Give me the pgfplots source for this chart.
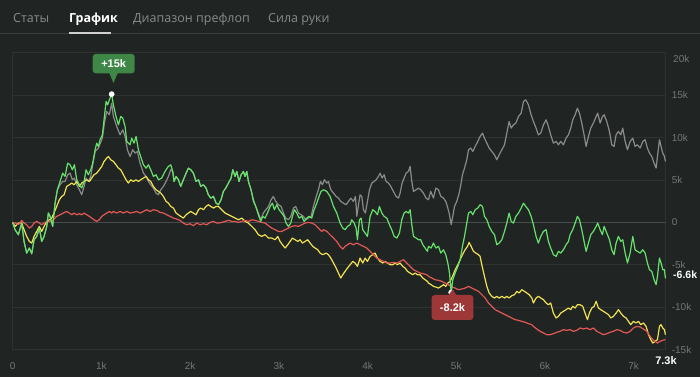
\documentclass[border=0pt]{standalone}
\usepackage{pgfplots}
\pgfplotsset{compat=1.18}
\usepackage{fontspec}
\setmainfont{Liberation Sans}
\newfontfamily\tabfont{Open Sans}
\definecolor{bg}{RGB}{32,36,35}
\definecolor{gridc}{RGB}{46,50,49}
\definecolor{zeroc}{RGB}{72,76,75}
\definecolor{sepc}{RGB}{58,62,61}
\definecolor{labc}{RGB}{115,119,118}
\definecolor{tabc}{RGB}{135,139,138}
\definecolor{sgray}{RGB}{138,138,138}
\definecolor{sgreen}{RGB}{102,226,106}
\definecolor{syellow}{RGB}{240,226,82}
\definecolor{sred}{RGB}{226,88,84}
\definecolor{tipgreen}{RGB}{62,135,70}
\definecolor{tipred}{RGB}{158,56,56}
\begin{document}
\begin{tikzpicture}[x=1pt,y=1pt]
\fill[bg] (0,0) rectangle (700,377);
% tabs
\fill[sepc] (0,342.5) rectangle (700,343.6);
\fill[white!82!black] (69,343) rectangle (111,345);
\node[anchor=base west, inner sep=0pt, text=tabc] at (13,354) {\tabfont\fontsize{12.5}{15}\selectfont Статы};
\node[anchor=base west, inner sep=0pt, text=white] at (69,354) {\tabfont\bfseries\fontsize{12.5}{15}\selectfont График};
\node[anchor=base west, inner sep=0pt, text=tabc] at (133,354) {\tabfont\fontsize{12.5}{15}\selectfont Диапазон префлоп};
\node[anchor=base west, inner sep=0pt, text=tabc] at (268,354) {\tabfont\fontsize{12.5}{15}\selectfont Сила руки};
\begin{axis}[
  at={(14.3,32)}, anchor=south west,
  scale only axis, width=652.9pt, height=297.3pt,
  xmin=0, xmax=7360, ymin=-15, ymax=20,
  axis line style={draw=gridc, line width=0.8pt},
  ymajorgrids, major grid style={draw=gridc, line width=0.8pt},
  xtick={0,1000,2000,3000,4000,5000,6000,7000},
  xticklabels={0,1k,2k,3k,4k,5k,6k,7k},
  ytick={-15,-10,-5,0,5,10,15},
  yticklabels={-15k,-10k,-5k,0,5k,10k,15k},
  yticklabel pos=right,
  major tick length=0pt,
  tick style={draw=none},
  ticklabel style={font=\fontsize{10}{12}\selectfont, text=labc, inner sep=0pt},
  yticklabel style={anchor=west, xshift=6pt},
  xticklabel style={anchor=center, yshift=-16pt},
  clip=false,
]
\draw[zeroc, line width=1.6pt] (axis cs:0,0) -- (axis cs:7360,0);
% gray
\addplot[sgray, line width=1.2pt, line join=round, no marks] coordinates {
(0,0) (27,-0.86) (64,-1.45) (102,-0.08) (128,-2.24) (158,-3.61) (188,-3.02) (215,-3.69) (241,-2.04) (271,-1.65) (301,-0.67) (327,-2.24) (354,-1.65) (384,-0.47) (402,1.10) (421,0.71) (451,-0.47) (478,2.27) (504,3.84) (534,4.43) (564,4.82) (590,4.82) (620,5.61) (647,5.80) (673,5.02) (696,5.22) (722,4.43) (752,3.84) (778,3.25) (805,4.24) (827,5.22) (853,4.82) (880,5.41) (902,6.78) (929,8.35) (966,8.75) (1011,9.92) (1034,11.69) (1060,13.06) (1090,12.67) (1116,14.04) (1135,12.47) (1173,11.29) (1210,10.31) (1241,10.90) (1267,10.12) (1293,8.55) (1323,7.76) (1353,8.55) (1380,8.16) (1406,8.35) (1436,6.98) (1474,5.80) (1504,5.41) (1530,4.82) (1556,4.43) (1586,4.04) (1616,3.45) (1643,3.25) (1669,3.84) (1699,4.24) (1729,4.82) (1755,5.41) (1782,6.20) (1804,6.00) (1819,4.82) (1842,5.41) (1868,5.02) (1894,4.24) (1924,5.02) (1955,5.80) (1981,6.39) (2007,6.20) (2037,5.80) (2067,4.82) (2094,5.02) (2120,4.24) (2150,4.43) (2180,4.04) (2206,3.25) (2233,2.86) (2263,3.06) (2293,2.27) (2319,2.08) (2349,2.67) (2375,3.65) (2402,4.04) (2432,4.63) (2462,5.22) (2481,6.20) (2507,5.41) (2526,6.00) (2552,4.82) (2575,5.61) (2601,6.00) (2620,5.41) (2639,6.00) (2657,4.82) (2687,3.84) (2714,2.67) (2740,1.88) (2770,1.10) (2796,0.31) (2826,1.10) (2853,1.49) (2883,1.88) (2913,2.67) (2939,3.06) (2965,2.47) (2995,2.08) (3026,1.88) (3052,1.10) (3078,0.51) (3108,0.31) (3135,0.71) (3165,1.69) (3191,1.88) (3221,1.10) (3251,0.90) (3277,0.71) (3304,0.31) (3334,0.51) (3364,0.71) (3390,1.88) (3416,2.86) (3446,3.84) (3469,4.82) (3492,4.43) (3514,5.02) (3541,4.63) (3559,4.82) (3586,3.84) (3616,3.45) (3646,3.06) (3672,2.86) (3698,2.47) (3728,2.27) (3758,2.08) (3785,2.47) (3811,2.86) (3841,2.47) (3864,3.06) (3879,0.71) (3898,2.08) (3916,3.25) (3935,3.06) (3954,1.49) (3976,1.10) (3999,2.47) (4022,3.84) (4048,4.63) (4074,4.82) (4097,5.02) (4123,5.41) (4142,5.80) (4164,5.22) (4187,5.61) (4209,4.82) (4236,4.63) (4262,4.24) (4292,3.65) (4322,3.06) (4349,2.86) (4367,3.45) (4390,4.63) (4412,5.22) (4435,5.80) (4461,6.00) (4480,6.59) (4499,4.82) (4518,3.65) (4548,3.84) (4574,4.04) (4600,3.84) (4630,3.45) (4660,2.86) (4687,2.67) (4713,3.65) (4743,2.86) (4770,4.04) (4800,3.84) (4826,3.06) (4856,2.86) (4882,2.47) (4905,1.69) (4924,0.90) (4943,-0.27) (4961,0.71) (4980,1.88) (5006,2.47) (5033,3.45) (5055,4.63) (5070,5.61) (5093,6.39) (5119,7.37) (5138,8.55) (5164,8.75) (5187,8.35) (5213,8.94) (5243,9.53) (5269,10.12) (5296,10.51) (5318,9.92) (5345,9.33) (5371,8.75) (5401,8.35) (5431,7.96) (5457,7.37) (5484,7.96) (5514,8.55) (5544,9.14) (5570,10.51) (5596,11.88) (5619,11.10) (5645,11.49) (5672,11.69) (5702,12.47) (5732,12.86) (5758,14.24) (5784,14.43) (5814,13.84) (5844,12.67) (5870,11.88) (5900,11.10) (5926,10.31) (5953,10.51) (5983,11.49) (6013,12.08) (6039,11.29) (6065,10.31) (6095,9.33) (6126,9.53) (6152,9.14) (6178,9.53) (6208,9.14) (6238,9.92) (6265,10.31) (6291,11.10) (6313,12.08) (6340,12.67) (6366,13.45) (6389,12.86) (6415,11.69) (6441,10.31) (6464,8.94) (6490,10.12) (6516,11.10) (6546,11.69) (6577,12.47) (6595,12.86) (6622,11.69) (6648,12.47) (6667,12.67) (6697,11.88) (6727,10.71) (6753,9.14) (6779,8.94) (6802,10.31) (6828,10.71) (6855,10.31) (6877,11.10) (6904,9.53) (6930,8.55) (6960,9.53) (6990,9.92) (7016,8.94) (7042,9.14) (7073,8.75) (7103,9.53) (7129,9.73) (7155,8.75) (7178,8.16) (7204,7.76) (7230,6.98) (7253,6.39) (7268,7.76) (7291,9.73) (7309,8.94) (7328,8.16) (7347,7.76) (7358,7.18)
};
% yellow
\addplot[syellow, line width=1.2pt, line join=round, no marks] coordinates {
(0,0) (27,-0.47) (64,-0.08) (102,-0.08) (128,-0.86) (158,-1.65) (188,-2.24) (215,-2.43) (241,-1.65) (271,-1.06) (301,-0.47) (327,-1.06) (354,-0.47) (384,0.12) (414,0.31) (440,0.51) (466,1.10) (496,1.88) (526,2.67) (553,3.06) (579,3.25) (609,4.24) (639,4.43) (666,4.63) (692,4.43) (722,4.82) (752,4.24) (778,4.63) (805,4.82) (835,5.02) (865,4.82) (891,5.22) (917,5.61) (947,5.80) (977,6.20) (1004,6.59) (1030,7.18) (1060,7.57) (1079,7.76) (1105,7.37) (1135,7.18) (1165,6.78) (1192,6.39) (1218,6.20) (1248,5.61) (1278,5.02) (1304,4.63) (1331,5.02) (1361,4.82) (1391,5.02) (1417,4.82) (1443,5.02) (1474,5.22) (1504,5.41) (1530,5.02) (1556,4.82) (1586,4.24) (1616,3.84) (1643,3.65) (1669,3.45) (1699,3.06) (1729,2.47) (1755,2.27) (1782,1.88) (1812,1.69) (1842,1.10) (1868,0.90) (1894,0.71) (1924,0.51) (1955,0.90) (1981,1.10) (2007,1.29) (2037,1.10) (2067,0.90) (2094,1.49) (2120,1.69) (2150,1.49) (2180,1.88) (2206,2.08) (2233,1.88) (2263,1.69) (2293,1.88) (2319,1.88) (2357,1.49) (2394,1.10) (2432,0.90) (2469,0.71) (2507,0.51) (2545,0.31) (2582,0.51) (2620,0.12) (2657,-0.08) (2695,-0.47) (2732,-0.86) (2770,-1.45) (2808,-1.65) (2845,-1.45) (2883,-1.84) (2920,-1.84) (2958,-2.04) (2988,-1.65) (3014,-2.24) (3041,-2.63) (3071,-3.02) (3101,-2.63) (3127,-2.24) (3153,-1.84) (3183,-2.04) (3214,-2.24) (3240,-2.04) (3266,-2.43) (3296,-2.24) (3326,-2.04) (3353,-2.43) (3383,-2.82) (3409,-3.02) (3439,-3.22) (3465,-3.61) (3495,-3.80) (3533,-3.61) (3559,-3.80) (3586,-4.20) (3616,-4.78) (3646,-5.37) (3672,-5.96) (3698,-6.55) (3721,-6.16) (3747,-5.76) (3774,-5.37) (3804,-4.98) (3834,-4.59) (3860,-4.78) (3886,-5.18) (3916,-4.20) (3946,-4.78) (3973,-4.20) (3999,-4.59) (4029,-4.00) (4059,-3.80) (4085,-3.61) (4112,-4.20) (4142,-4.59) (4172,-4.78) (4198,-4.59) (4225,-4.78) (4255,-4.98) (4285,-4.98) (4311,-4.78) (4337,-4.98) (4367,-4.78) (4397,-5.18) (4424,-5.37) (4450,-5.76) (4480,-5.96) (4510,-6.16) (4536,-5.96) (4563,-6.16) (4593,-6.16) (4623,-6.55) (4649,-6.75) (4675,-6.94) (4687,-7.14) (4717,-7.33) (4743,-7.53) (4770,-7.61) (4800,-7.73) (4830,-7.53) (4856,-7.33) (4882,-7.53) (4905,-7.14) (4931,-6.94) (4958,-6.35) (4988,-5.57) (5018,-4.98) (5044,-4.39) (5070,-3.80) (5100,-3.22) (5127,-2.82) (5145,-2.35) (5168,-2.82) (5194,-3.41) (5221,-3.61) (5251,-3.80) (5269,-4.00) (5288,-4.98) (5318,-6.35) (5345,-7.53) (5371,-8.31) (5401,-8.71) (5431,-8.90) (5457,-8.71) (5484,-8.90) (5514,-8.71) (5544,-8.90) (5570,-8.71) (5596,-8.90) (5626,-8.63) (5657,-8.51) (5683,-8.12) (5709,-8.31) (5739,-7.92) (5769,-8.12) (5796,-8.31) (5822,-8.51) (5852,-8.90) (5870,-9.49) (5900,-8.90) (5926,-8.71) (5953,-8.90) (5983,-9.10) (6013,-9.49) (6039,-9.69) (6065,-9.49) (6095,-10.67) (6126,-11.25) (6152,-11.06) (6178,-10.67) (6208,-10.47) (6238,-10.27) (6265,-10.08) (6291,-10.27) (6313,-9.88) (6340,-10.08) (6366,-9.69) (6396,-9.69) (6426,-9.88) (6452,-10.67) (6479,-11.45) (6501,-10.67) (6528,-10.08) (6554,-9.88) (6577,-9.29) (6603,-10.08) (6629,-10.27) (6659,-10.47) (6689,-10.67) (6716,-10.86) (6742,-11.25) (6772,-11.06) (6802,-10.67) (6828,-10.27) (6855,-10.67) (6885,-11.06) (6915,-11.25) (6941,-11.65) (6967,-12.04) (6997,-11.65) (7027,-11.84) (7054,-11.65) (7080,-12.04) (7110,-11.84) (7140,-12.24) (7167,-13.22) (7193,-13.80) (7215,-14.20) (7242,-14.00) (7268,-13.80) (7291,-12.24) (7309,-12.04) (7328,-12.43) (7347,-12.63) (7358,-13.22)
};
% red
\addplot[sred, line width=1.2pt, line join=round, no marks] coordinates {
(0,0) (27,-0.08) (64,-0.27) (102,0.24) (128,-0.08) (158,-0.27) (188,-0.67) (215,-0.47) (241,-0.08) (271,0.12) (301,-0.08) (327,-0.27) (354,-0.08) (384,0.12) (421,0.12) (459,0.31) (496,0.71) (534,0.90) (572,1.10) (609,1.29) (639,1.10) (666,0.90) (692,1.10) (722,0.90) (752,1.02) (778,0.90) (805,1.10) (835,0.90) (865,0.71) (891,0.51) (917,0.31) (947,0.12) (977,0.31) (1004,0.71) (1030,0.90) (1060,1.10) (1090,1.29) (1116,1.10) (1135,1.29) (1173,1.10) (1210,1.29) (1248,1.10) (1286,1.29) (1323,1.10) (1361,1.18) (1398,1.29) (1436,1.10) (1474,1.29) (1511,1.49) (1549,1.29) (1586,1.49) (1624,1.41) (1661,1.18) (1699,1.10) (1737,0.90) (1774,0.71) (1812,0.51) (1849,0.39) (1887,0.24) (1924,-0.08) (1962,-0.27) (2000,-0.16) (2037,-0.39) (2075,-0.08) (2112,-0.27) (2150,-0.16) (2188,-0.27) (2225,0) (2263,0.12) (2300,-0.08) (2319,-0.08) (2357,0) (2394,0.12) (2432,0.24) (2469,0.12) (2507,0.12) (2545,0) (2582,0.12) (2620,0.24) (2657,0.12) (2695,0.31) (2732,0.24) (2770,0.12) (2808,0) (2845,-0.08) (2883,-0.39) (2920,-0.67) (2958,-0.86) (2995,-1.06) (3033,-1.06) (3071,-0.86) (3108,-0.67) (3146,-0.47) (3183,-0.39) (3221,-0.47) (3259,-0.27) (3296,-0.08) (3334,0) (3371,-0.08) (3409,-0.27) (3446,-0.67) (3484,-1.06) (3503,-0.86) (3541,-1.06) (3578,-1.45) (3616,-1.84) (3653,-2.24) (3691,-2.82) (3721,-3.14) (3747,-2.82) (3774,-2.63) (3804,-2.43) (3841,-2.63) (3879,-2.43) (3916,-2.63) (3954,-2.82) (3992,-3.02) (4029,-3.41) (4067,-3.80) (4104,-4.20) (4142,-4.39) (4179,-4.59) (4217,-4.78) (4255,-4.78) (4292,-4.71) (4330,-4.78) (4367,-4.59) (4405,-4.39) (4442,-4.78) (4480,-5.18) (4518,-5.57) (4555,-5.76) (4593,-5.96) (4630,-6.04) (4668,-6.16) (4687,-6.35) (4725,-6.55) (4762,-6.75) (4800,-6.82) (4837,-6.94) (4875,-7.14) (4912,-7.33) (4950,-7.61) (4988,-7.73) (5025,-7.92) (5063,-7.84) (5100,-7.73) (5138,-7.53) (5175,-7.73) (5213,-7.92) (5251,-8.12) (5288,-8.51) (5326,-8.90) (5363,-9.49) (5401,-9.88) (5439,-10.27) (5476,-10.47) (5514,-10.67) (5551,-10.86) (5589,-11.06) (5626,-11.25) (5664,-11.45) (5702,-11.53) (5739,-11.65) (5777,-11.76) (5814,-11.92) (5852,-12.04) (5870,-12.24) (5908,-12.55) (5945,-12.82) (5983,-13.02) (6020,-13.22) (6058,-13.22) (6095,-13.10) (6133,-12.94) (6171,-12.82) (6208,-12.63) (6246,-12.71) (6283,-12.63) (6321,-12.82) (6359,-12.71) (6396,-12.43) (6434,-12.55) (6471,-12.43) (6509,-12.63) (6546,-12.43) (6584,-12.82) (6622,-13.02) (6659,-13.22) (6697,-13.10) (6734,-12.94) (6772,-12.82) (6810,-12.63) (6847,-12.71) (6885,-12.94) (6922,-13.02) (6960,-12.82) (6997,-12.43) (7035,-12.24) (7073,-12.31) (7110,-12.55) (7148,-12.82) (7185,-13.41) (7215,-13.80) (7242,-14.00) (7268,-14.20) (7298,-14.00) (7328,-13.88) (7358,-13.80)
};
% green
\addplot[sgreen, line width=1.2pt, line join=round, no marks] coordinates {
(0,0) (27,-0.86) (64,-1.45) (102,-0.08) (128,-2.24) (158,-3.61) (188,-3.02) (215,-3.69) (241,-2.04) (271,-1.65) (301,-0.67) (327,-2.24) (354,-1.65) (384,-0.47) (402,1.10) (421,0.71) (451,-0.47) (478,2.27) (504,3.84) (534,4.82) (564,5.80) (590,5.41) (620,6.98) (647,6.78) (673,6.20) (696,6.78) (722,5.02) (752,4.43) (778,4.04) (805,4.82) (827,6.20) (853,5.61) (880,6.20) (902,6.98) (929,8.55) (947,9.33) (966,8.94) (985,9.73) (1011,10.31) (1034,12.47) (1053,14.24) (1071,13.84) (1090,14.43) (1116,15.10) (1135,13.84) (1165,12.47) (1192,11.49) (1218,12.47) (1241,12.27) (1267,11.29) (1286,9.53) (1323,9.14) (1342,9.92) (1368,9.33) (1391,10.12) (1417,8.55) (1443,7.76) (1474,6.78) (1504,6.39) (1530,6.78) (1556,6.20) (1586,5.41) (1616,5.61) (1643,5.02) (1680,5.22) (1707,5.80) (1729,6.20) (1755,6.59) (1782,6.78) (1804,6.00) (1819,4.82) (1842,5.41) (1868,5.02) (1894,4.24) (1924,5.02) (1955,5.80) (1981,6.39) (2007,6.20) (2037,5.80) (2067,4.82) (2094,5.02) (2120,4.24) (2150,4.43) (2180,4.04) (2206,3.25) (2233,2.86) (2263,3.06) (2293,2.27) (2319,2.08) (2349,2.67) (2375,3.65) (2402,4.04) (2432,4.63) (2462,5.22) (2481,6.20) (2507,5.41) (2526,6.00) (2552,4.82) (2575,5.61) (2601,6.00) (2620,5.41) (2639,6.00) (2657,4.82) (2687,3.84) (2714,2.47) (2740,1.88) (2770,0.90) (2796,0.12) (2819,0.71) (2845,0.51) (2872,1.10) (2902,1.88) (2928,2.27) (2950,1.49) (2977,2.08) (3003,1.49) (3033,1.10) (3059,0.71) (3082,-0.08) (3108,-0.47) (3135,-0.08) (3153,0.71) (3176,1.49) (3202,1.10) (3229,0.51) (3259,0.71) (3285,0.12) (3315,0.51) (3341,0.71) (3371,0.51) (3398,1.49) (3428,2.27) (3454,3.06) (3476,3.65) (3503,3.84) (3541,3.65) (3578,3.06) (3616,1.88) (3653,1.10) (3691,-0.08) (3721,-0.67) (3747,-0.86) (3774,-0.47) (3804,-0.27) (3822,0.31) (3849,-0.08) (3871,-0.67) (3886,-2.04) (3909,0.31) (3928,0.51) (3946,-0.86) (3973,-1.25) (3999,-1.65) (4029,0.71) (4059,1.49) (4085,1.29) (4112,0.90) (4134,1.88) (4161,1.10) (4187,0.71) (4217,0.51) (4247,-0.27) (4273,-0.86) (4300,-1.65) (4330,-1.84) (4360,-1.25) (4386,0.31) (4412,1.10) (4435,1.29) (4461,1.10) (4480,1.49) (4499,-0.27) (4518,-1.65) (4548,-1.84) (4574,-2.04) (4600,-2.04) (4623,-2.63) (4649,-3.02) (4675,-3.41) (4687,-2.82) (4717,-3.02) (4743,-2.43) (4770,-3.02) (4800,-2.82) (4826,-3.61) (4856,-3.22) (4882,-3.80) (4905,-4.78) (4924,-5.96) (4943,-8.24) (4961,-6.75) (4988,-5.96) (5018,-5.18) (5044,-4.39) (5070,-2.82) (5093,-1.65) (5119,-0.08) (5138,1.10) (5164,1.29) (5187,0.90) (5213,1.49) (5243,1.69) (5269,2.08) (5296,1.88) (5318,0.71) (5345,0.31) (5371,-0.47) (5401,-1.06) (5431,-1.45) (5457,-2.63) (5484,-2.43) (5514,-2.04) (5544,-1.06) (5570,-0.08) (5596,1.10) (5619,0.12) (5645,-0.08) (5672,0.71) (5702,1.10) (5732,1.69) (5758,2.27) (5784,1.88) (5814,1.49) (5844,0.71) (5870,-0.27) (5900,-1.65) (5926,-2.43) (5953,-1.65) (5983,-1.06) (6013,-0.86) (6039,-2.24) (6065,-3.02) (6095,-3.80) (6126,-4.00) (6152,-3.41) (6178,-3.61) (6208,-3.22) (6238,-2.63) (6265,-2.24) (6283,-1.45) (6313,-0.86) (6340,-0.08) (6366,0.71) (6389,0.31) (6415,-0.86) (6441,-2.24) (6464,-3.41) (6490,-2.43) (6516,-1.45) (6546,-1.06) (6577,-0.47) (6595,-0.08) (6622,-0.86) (6648,-1.45) (6667,-0.47) (6697,-1.25) (6727,-2.04) (6753,-3.22) (6779,-3.80) (6802,-2.43) (6828,-1.65) (6855,-2.24) (6877,-2.04) (6904,-3.61) (6930,-4.78) (6960,-3.61) (6990,-1.65) (7016,-3.22) (7042,-3.41) (7073,-3.61) (7103,-3.22) (7129,-3.61) (7155,-4.78) (7178,-5.57) (7204,-5.76) (7230,-6.75) (7253,-7.33) (7268,-6.35) (7291,-4.20) (7309,-4.78) (7328,-5.57) (7347,-5.57) (7358,-6.59)
};
\addplot[only marks, mark=*, mark size=2.6pt, white, mark options={draw=white, fill=white}] coordinates {(1116,15.10) (4943,-8.24)};
\end{axis}
% extra labels
\node[anchor=west, inner sep=0pt, text=labc, font=\fontsize{10}{12}\selectfont] at (673,318) {20k};
\node[anchor=west, inner sep=0pt, text=white, font=\bfseries\fontsize{10.5}{12}\selectfont] at (673,102.5) {-6.6k};
\node[anchor=center, inner sep=0pt, text=white, font=\bfseries\fontsize{11}{13}\selectfont] at (666,16) {7.3k};
% tooltip +15k
\fill[tipgreen, rounded corners=3pt] (92.7,303.7) rectangle (134.7,323);
\fill[tipgreen] (109.2,304.2) -- (117.8,304.2) -- (113.5,294) -- cycle;
\node[anchor=center, inner sep=0pt, text=white, font=\bfseries\fontsize{11}{13}\selectfont] at (113.7,313.4) {+15k};
% tooltip -8.2k
\fill[tipred, rounded corners=3pt] (431.7,57) rectangle (473.3,82);
\fill[tipred] (448.2,81.5) -- (456.8,81.5) -- (452.5,87.5) -- cycle;
\node[anchor=center, inner sep=0pt, text=white, font=\bfseries\fontsize{11}{13}\selectfont] at (452.5,69.5) {-8.2k};
\end{tikzpicture}
\end{document}
